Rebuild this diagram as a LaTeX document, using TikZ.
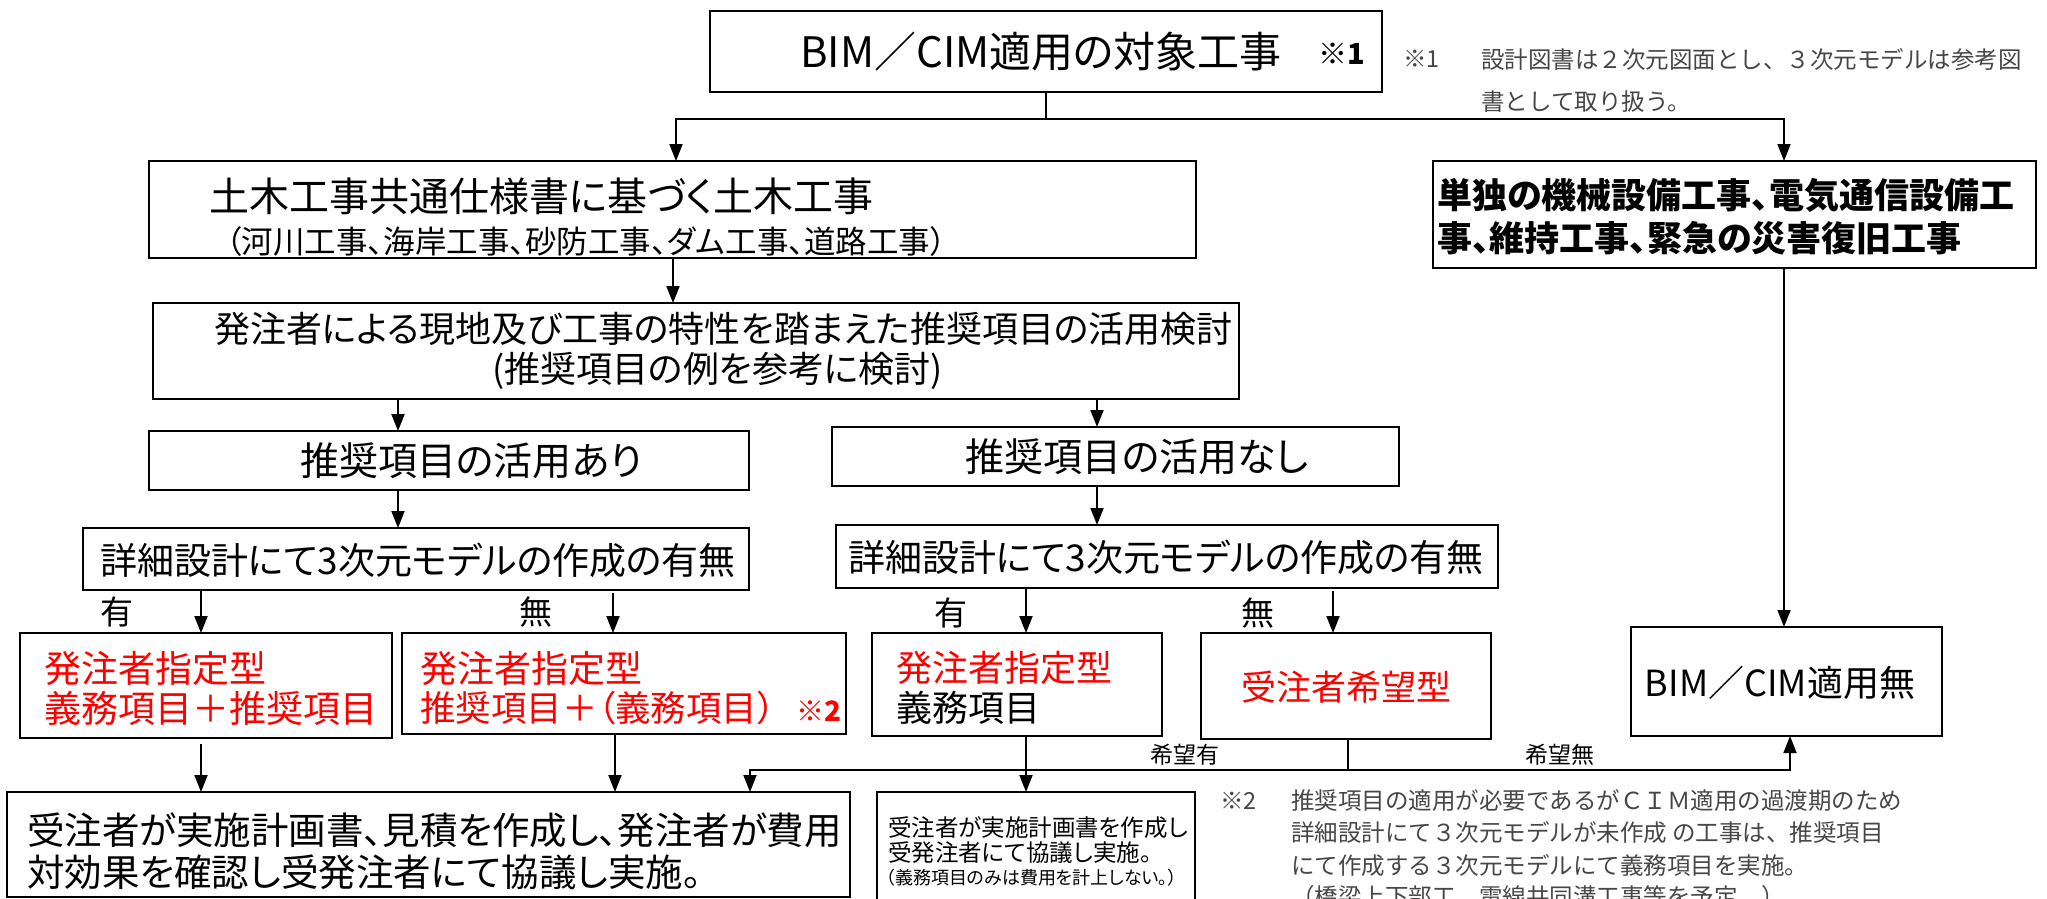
\documentclass[tikz,border=0pt]{standalone}
\usepackage{fontspec}
\setmainfont{Noto Sans CJK JP}[RawFeature=+palt]
\newfontfamily\notefont{Noto Sans CJK JP}
\usetikzlibrary{arrows.meta,calc}
\newcommand\fsz[1]{\fontsize{#1pt}{#1pt}\selectfont}
\definecolor{redzero}{RGB}{255,0,0}
\definecolor{notegray}{RGB}{70,70,70}
\newcommand\bx[5]{\node[box, minimum width={(#4-#2)*1pt}, minimum height={(#5-#3)*1pt}] (#1) at ({(#2+#4)/2},{(#3+#5)/2}) {};}
\begin{document}
\begin{tikzpicture}[x=1pt,y=-1pt,
  box/.style={draw, line width=2.6pt, inner sep=0pt, outer sep=0pt, fill=white},
  ln/.style={line width=1.9pt},
  arr/.style={line width=1.9pt, -{Triangle[length=17pt,width=13pt]}},
  tx/.style={inner sep=0pt, anchor=west},
  tc/.style={inner sep=0pt, anchor=center},
  note/.style={tx, font=\notefont\fsz{23.5}, text=notegray},
]
\useasboundingbox (0,0) rectangle (2047,899);

% boxes
\bx{top}{710}{11}{1382}{92}
\bx{doboku}{149}{161}{1196}{258}
\bx{tandoku}{1433}{161}{2036}{268}
\bx{kento}{153}{303}{1239}{399}
\bx{ari}{149}{431}{749}{490}
\bx{nashi}{832}{427}{1399}{486}
\bx{shosaiA}{83}{528}{749}{590}
\bx{shosaiB}{836}{525}{1498}{588}
\bx{bA}{20}{633}{392}{738}
\bx{bB}{402}{633}{846}{734}
\bx{bC}{872}{633}{1162}{736}
\bx{bD}{1201}{633}{1491}{739}
\bx{bE}{1631}{627}{1942}{736}
\bx{big}{7}{792}{850}{897}
\bx{small}{877}{792}{1195}{912}

% texts
\node[tx,font=\fsz{42}] (t1) at (800,52) {BIM／CIM適用の対象工事};
\node[tx,font=\fsz{29}\bfseries] (t2) at (1318,54) {※1};
\node[note] (n1a) at (1403,59) {※1};
\node[note] (n1b) at (1481,59) {設計図書は２次元図面とし、３次元モデルは参考図};
\node[note] (n1c) at (1481,102) {書として取り扱う。};

\node[tx,font=\fsz{40}] (t3) at (209,196) {土木工事共通仕様書に基づく土木工事};
\node[tx,font=\fsz{31.5}] (t4) at (226,242) {（河川工事、海岸工事、砂防工事、ダム工事、道路工事）};

\node[tx,font=\fsz{35}\bfseries] (t5) at (1437,195) {単独の機械設備工事、電気通信設備工};
\node[tx,font=\fsz{35}\bfseries] (t6) at (1437,238) {事、維持工事、緊急の災害復旧工事};

\node[tx,font=\fsz{36}] (t7) at (214,329) {発注者による現地及び工事の特性を踏まえた推奨項目の活用検討};
\node[tx,font=\fsz{36}] (t8) at (492,371) {(推奨項目の例を参考に検討)};

\node[tc,font=\fsz{39}] (t9) at (471,461) {推奨項目の活用あり};
\node[tc,font=\fsz{39}] (t10) at (1137,457) {推奨項目の活用なし};
\node[tc,font=\fsz{37}] (t11) at (418,560) {詳細設計にて3次元モデルの作成の有無};
\node[tc,font=\fsz{37}] (t12) at (1166,557) {詳細設計にて3次元モデルの作成の有無};

\node[tc,font=\fsz{33}] (l1) at (117,612) {有};
\node[tc,font=\fsz{33}] (l2) at (536,612) {無};
\node[tc,font=\fsz{33}] (l3) at (951,613) {有};
\node[tc,font=\fsz{33}] (l4) at (1258,613) {無};

\node[tx,font=\fsz{37},text=redzero] (t13) at (44,668) {発注者指定型};
\node[tx,font=\fsz{37},text=redzero] (t14) at (44,708) {義務項目＋推奨項目};
\node[tx,font=\fsz{37},text=redzero] (t15) at (420,668) {発注者指定型};
\node[tx,font=\fsz{35.5},text=redzero] (t16) at (420,708) {推奨項目＋（義務項目）};
\node[tx,font=\fsz{28}\bfseries,text=redzero] (t16b) at (796,711) {※2};
\node[tx,font=\fsz{36},text=redzero] (t17) at (896,668) {発注者指定型};
\node[tx,font=\fsz{36}] (t18) at (896,708) {義務項目};
\node[tc,font=\fsz{35},text=redzero] (t19) at (1346,687) {受注者希望型};
\node[tc,font=\fsz{36}] (t20) at (1780,683) {BIM／CIM適用無};

\node[tc,font=\fsz{23}] (k1) at (1185,755) {希望有};
\node[tc,font=\fsz{23}] (k2) at (1560,755) {希望無};

\node[tx,font=\fsz{37.5}] (t21) at (27,830) {受注者が実施計画書、見積を作成し、発注者が費用};
\node[tx,font=\fsz{37.5}] (t22) at (27,872) {対効果を確認し受発注者にて協議し実施。};
\node[tx,font=\fsz{23.5}] (t23) at (888,828) {受注者が実施計画書を作成し};
\node[tx,font=\fsz{23.5}] (t24) at (888,853) {受発注者にて協議し実施。};
\node[tx,font=\fsz{18}] (t25) at (886,878) {（義務項目のみは費用を計上しない。）};

\node[note] (n2a) at (1220,801) {※2};
\node[note] (n2b) at (1291,801) {推奨項目の適用が必要であるがＣＩＭ適用の過渡期のため};
\node[note] (n2c) at (1291,833) {詳細設計にて３次元モデルが未作成 の工事は、推奨項目};
\node[note] (n2d) at (1291,865) {にて作成する３次元モデルにて義務項目を実施。};
\node[note] (n2e) at (1291,897) {（橋梁上下部工、電線共同溝工事等を予定。）};

% connectors
\coordinate (j1) at (1046,119);
\coordinate (xL) at (676,0);
\coordinate (xR) at (1784,0);
\coordinate (xU) at (1790,0);
\coordinate (x673) at (673,0);
\coordinate (x397) at (398,0);
\coordinate (x1097) at (1097,0);
\coordinate (x201) at (201,0);
\coordinate (x613) at (613,0);
\coordinate (x616) at (615,0);
\coordinate (x1026) at (1026,0);
\coordinate (x1333) at (1333,0);
\coordinate (x750) at (750,0);
\coordinate (j2) at (1348,770);

\draw[ln] (top.south -| j1) -- (j1);
\draw[arr] (j1) -| (doboku.north -| xL);
\draw[arr] (j1) -| (tandoku.north -| xR);
\draw[arr] (doboku.south -| x673) -- (kento.north -| x673);
\draw[arr] (kento.south -| x397) -- (ari.north -| x397);
\draw[arr] (kento.south -| x1097) -- (nashi.north -| x1097);
\draw[arr] (ari.south -| x397) -- (shosaiA.north -| x397);
\draw[arr] (nashi.south -| x1097) -- (shosaiB.north -| x1097);
\draw[arr] (shosaiA.south -| x201) -- (bA.north -| x201);
\draw[arr, shorten <=3pt] (shosaiA.south -| x613) -- (bB.north -| x613);
\draw[arr] (shosaiB.south -| x1026) -- (bC.north -| x1026);
\draw[arr, shorten <=3pt] (shosaiB.south -| x1333) -- (bD.north -| x1333);
\draw[arr] (tandoku.south -| xR) -- (bE.north -| xR);
\draw[arr, shorten <=6pt] (bA.south -| x201) -- (big.north -| x201);
\draw[arr] (bB.south -| x616) -- (big.north -| x616);
\draw[arr] (bC.south -| x1026) -- (small.north -| x1026);
\draw[ln] (bD.south -| j2) -- (j2);
\draw[arr] (j2) -| (big.north -| x750);
\draw[arr] (j2) -| (bE.south -| xU);
\end{tikzpicture}
\end{document}
